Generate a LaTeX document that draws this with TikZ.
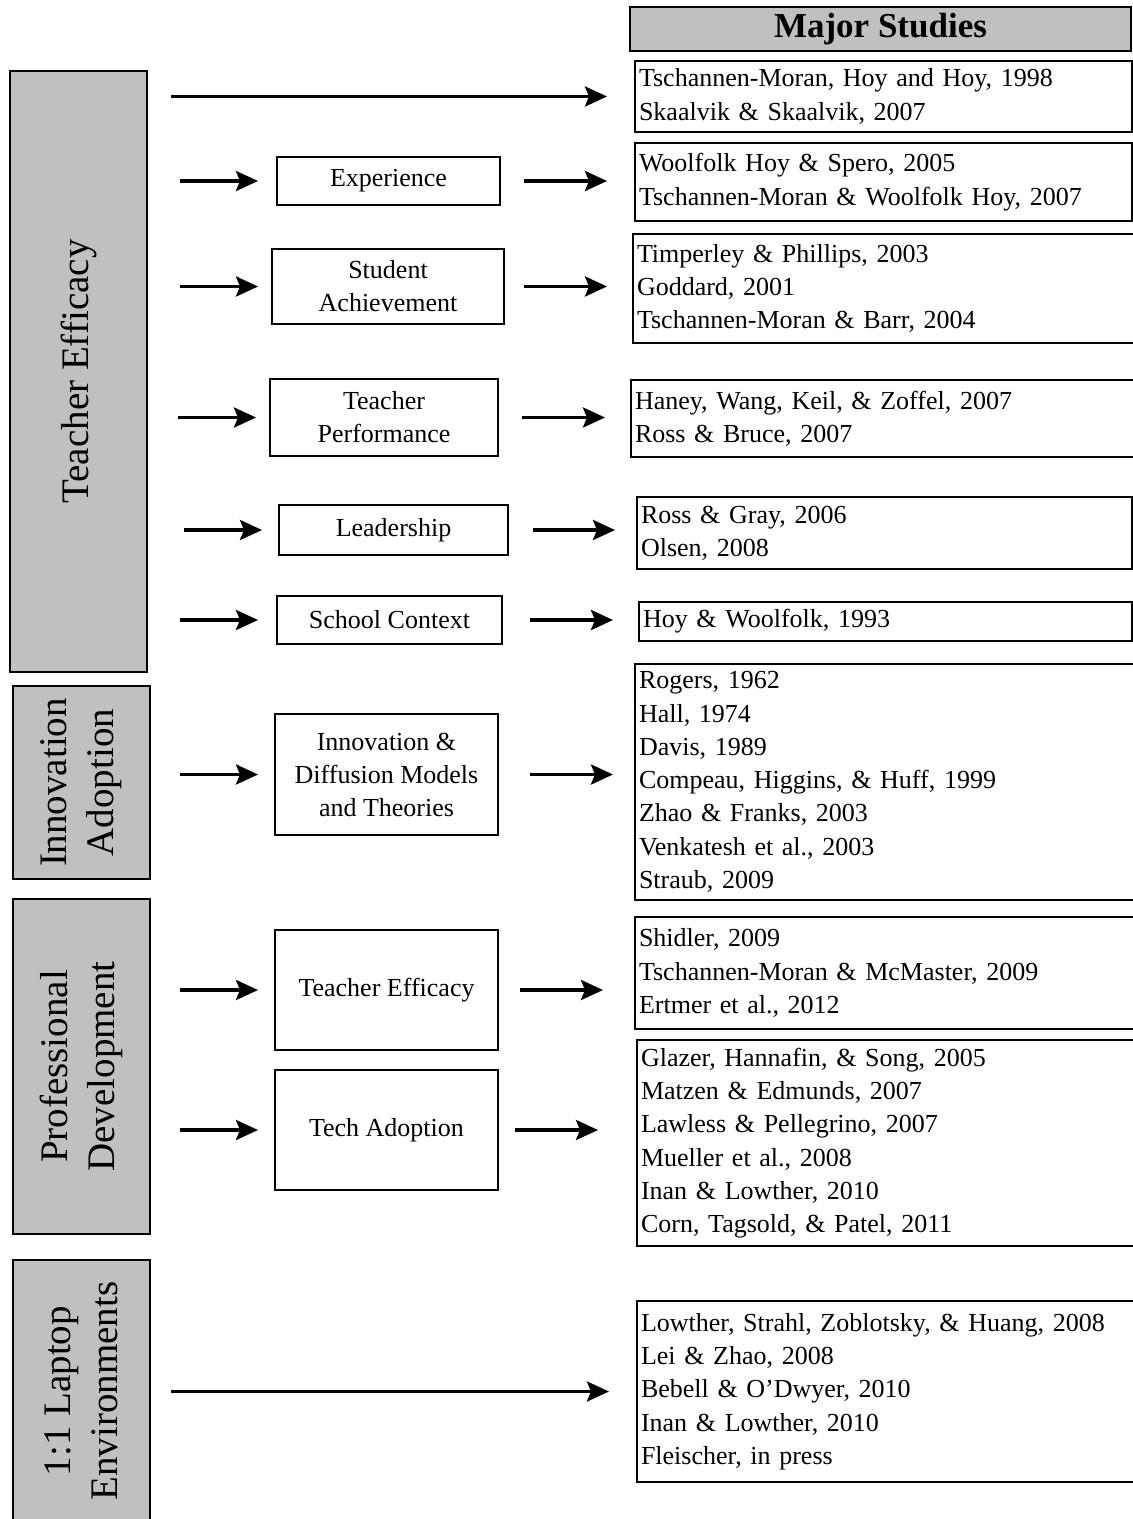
\documentclass[tikz,border=0pt]{standalone}
\usepackage{fontspec}
\setmainfont{Liberation Serif}
\usetikzlibrary{arrows.meta}
\definecolor{boxgray}{RGB}{192,192,192}
\begin{document}
\begin{tikzpicture}[x=1pt,y=-1pt,
  lbox/.style={draw, fill=boxgray, line width=2.5pt, rotate=90, inner sep=0pt, align=center, font=\fontsize{39}{47}\selectfont},
  mbox/.style={draw, line width=2pt, inner sep=0pt, align=center, font=\fontsize{26}{33}\selectfont},
  rbox/.style={draw, line width=2pt, anchor=north west, inner xsep=4pt, inner ysep=0pt, align=left, font=\fontsize{26}{33.3}\selectfont},
  hbox/.style={draw, fill=boxgray, line width=2pt, inner sep=0pt, font=\fontsize{35}{40}\selectfont\bfseries},
  arr/.style={line width=3.5pt, -{Stealth[length=22pt,width=20pt,inset=4pt]}}]
\useasboundingbox (0,0) rectangle (1133,1519);
\clip (0,0) rectangle (1133,1519);

% left category boxes
\node[lbox, minimum width=601pt, minimum height=137pt] (te) at (78.5,371.5) {Teacher Efficacy};
\node[lbox, minimum width=193pt, minimum height=137pt] (ia) at (81.5,782.5) {Innovation\\Adoption};
\node[lbox, minimum width=335pt, minimum height=137pt] (pd) at (81.5,1066.5) {Professional\\Development};
\node[lbox, minimum width=262pt, minimum height=137pt] (lap) at (81.5,1391) {1:1 Laptop\\Environments};

% middle boxes
\node[mbox, minimum width=223pt, minimum height=48pt] (exp) at (388.5,181) {Experience};
\node[mbox, minimum width=232pt, minimum height=75pt] (sa) at (388,286.5) {Student\\Achievement};
\node[mbox, minimum width=228pt, minimum height=77pt] (tp) at (384,417.5) {Teacher\\Performance};
\node[mbox, minimum width=229pt, minimum height=50pt] (ld) at (393.5,530) {Leadership};
\node[mbox, minimum width=225pt, minimum height=48pt] (sc) at (389.5,620) {School Context};
\node[mbox, minimum width=223pt, minimum height=121pt] (idm) at (386.5,774.5) {Innovation \&\\Diffusion Models\\and Theories};
\node[mbox, minimum width=223pt, minimum height=120pt] (tef) at (386.5,990) {Teacher Efficacy};
\node[mbox, minimum width=223pt, minimum height=120pt] (tad) at (386.5,1130) {Tech Adoption};

% right: major studies
\node[hbox, minimum width=501pt, minimum height=44pt] (hdr) at (880.5,29) {Major Studies};
\node[rbox, text width=489pt, minimum height=71pt] (r1) at (634,60) {Tschannen-Moran, Hoy and Hoy, 1998\\Skaalvik \& Skaalvik, 2007};
\node[rbox, text width=489pt, minimum height=78pt] (r2) at (634,142) {Woolfolk Hoy \& Spero, 2005\\Tschannen-Moran \& Woolfolk Hoy, 2007};
\node[rbox, text width=500pt, minimum height=109pt] (r3) at (632,233) {Timperley \& Phillips, 2003\\Goddard, 2001\\Tschannen-Moran \& Barr, 2004};
\node[rbox, text width=502pt, minimum height=77pt] (r4) at (630,379) {Haney, Wang, Keil, \& Zoffel, 2007\\Ross \& Bruce, 2007};
\node[rbox, text width=487pt, minimum height=72pt] (r5) at (636,496) {Ross \& Gray, 2006\\Olsen, 2008};
\node[rbox, text width=485pt, minimum height=39pt] (r6) at (638,601) {Hoy \& Woolfolk, 1993};
\node[rbox, text width=498pt, minimum height=236pt] (r7) at (634,663) {Rogers, 1962\\Hall, 1974\\Davis, 1989\\Compeau, Higgins, \& Huff, 1999\\Zhao \& Franks, 2003\\Venkatesh et al., 2003\\Straub, 2009};
\node[rbox, text width=498pt, minimum height=112pt] (r8) at (634,916) {Shidler, 2009\\Tschannen-Moran \& McMaster, 2009\\Ertmer et al., 2012};
\node[rbox, text width=496pt, minimum height=206pt] (r9) at (636,1039) {Glazer, Hannafin, \& Song, 2005\\Matzen \& Edmunds, 2007\\Lawless \& Pellegrino, 2007\\Mueller et al., 2008\\Inan \& Lowther, 2010\\Corn, Tagsold, \& Patel, 2011};
\node[rbox, text width=496pt, minimum height=181pt] (r10) at (636,1300) {Lowther, Strahl, Zoblotsky, \& Huang, 2008\\Lei \& Zhao, 2008\\Bebell \& O'Dwyer, 2010\\Inan \& Lowther, 2010\\Fleischer, in press};

% arrows
\draw[arr, shorten <=23pt, shorten >=27pt] (te.south |- r1.west) -- (r1.west);

\draw[arr, shorten <=32pt, shorten >=18pt] (te.south |- exp.west) -- (exp.west);
\draw[arr, shorten <=23pt, shorten >=27pt] (exp.east) -- (exp.east -| r2.west);

\draw[arr, shorten <=32pt, shorten >=13pt] (te.south |- sa.west) -- (sa.west);
\draw[arr, shorten <=19pt, shorten >=25pt] (sa.east) -- (sa.east -| r3.west);

\draw[arr, shorten <=30pt, shorten >=13pt] (te.south |- tp.west) -- (tp.west);
\draw[arr, shorten <=23pt, shorten >=25pt] (tp.east) -- (tp.east -| r4.west);

\draw[arr, shorten <=36pt, shorten >=16pt] (te.south |- ld.west) -- (ld.west);
\draw[arr, shorten <=24pt, shorten >=21pt] (ld.east) -- (ld.east -| r5.west);

\draw[arr, shorten <=32pt, shorten >=18pt] (te.south |- sc.west) -- (sc.west);
\draw[arr, shorten <=27pt, shorten >=25pt] (sc.east) -- (sc.east -| r6.west);

\draw[arr, shorten <=29pt, shorten >=16pt] (ia.south |- idm.west) -- (idm.west);
\draw[arr, shorten <=31pt, shorten >=21pt] (idm.east) -- (idm.east -| r7.west);

\draw[arr, shorten <=29pt, shorten >=16pt] (pd.south |- tef.west) -- (tef.west);
\draw[arr, shorten <=21pt, shorten >=31pt] (tef.east) -- (tef.east -| r8.west);

\draw[arr, shorten <=29pt, shorten >=16pt] (pd.south |- tad.west) -- (tad.west);
\draw[arr, shorten <=16pt, shorten >=38pt] (tad.east) -- (tad.east -| r9.west);

\draw[arr, shorten <=20pt, shorten >=27pt] (lap.south |- r10.west) -- (r10.west);
\end{tikzpicture}
\end{document}
